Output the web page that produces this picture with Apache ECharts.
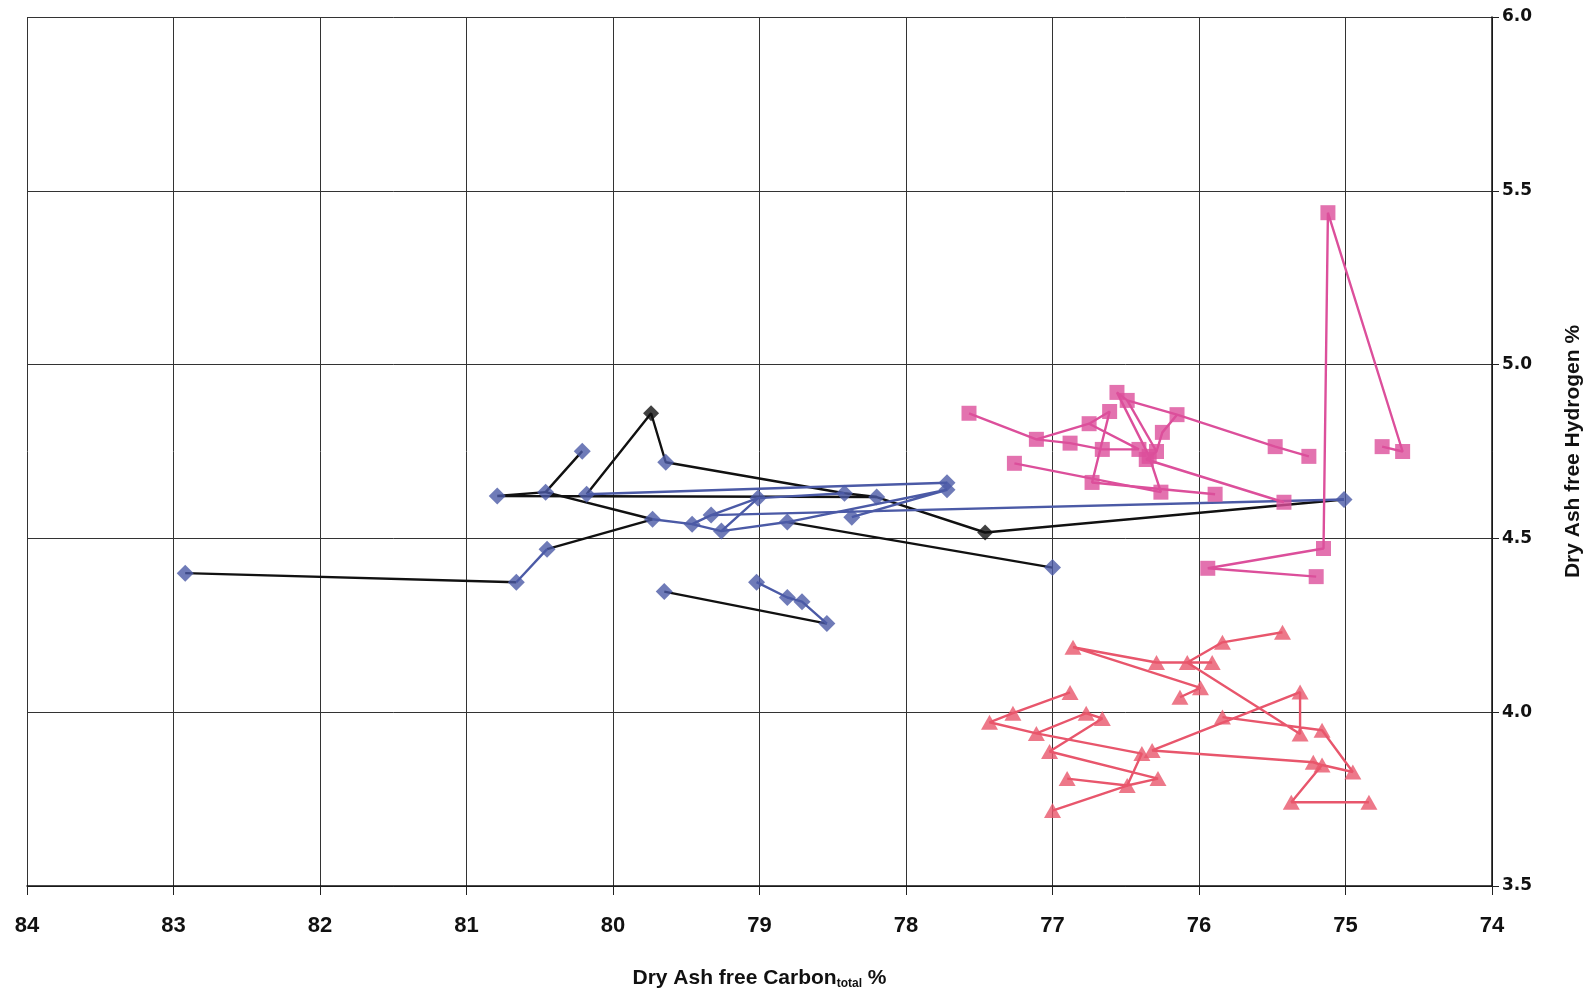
<!DOCTYPE html>
<html>
<head>
<meta charset="utf-8">
<script src="https://cdn.jsdelivr.net/npm/echarts@6/dist/echarts.min.js"></script>
<style>
html,body{margin:0;padding:0;background:#fff;}
#chart{width:1593px;height:995px;}
</style>
</head>
<body>
<div id="chart"></div>
<script>
// ---- Data (x = Dry Ash free Carbon total %, y = Dry Ash free Hydrogen %) ----
// Blue / black diamond series: line pieces drawn in black
const blackSegments = [
  [[82.92,4.40],[80.66,4.374]],
  [[80.45,4.469],[79.73,4.555]],
  [[80.21,4.751],[80.46,4.633],[79.73,4.555]],
  [[80.46,4.633],[80.79,4.622],[78.20,4.619]],
  [[80.18,4.627],[79.74,4.86],[79.64,4.719],[78.42,4.63],[78.20,4.619],[77.46,4.517],[75.01,4.612]],
  [[79.65,4.347],[78.54,4.255]],
  [[78.81,4.547],[77.00,4.416]]
];
// line pieces drawn in blue
const blueSegments = [
  [[80.66,4.374],[80.45,4.469]],
  [[80.18,4.627],[77.72,4.66]],
  [[79.73,4.555],[79.46,4.541],[79.33,4.567],[75.01,4.612]],
  [[79.46,4.541],[79.26,4.521],[79.01,4.616],[78.42,4.63]],
  [[79.33,4.567],[79.01,4.616]],
  [[79.26,4.521],[78.81,4.547],[77.72,4.64],[78.37,4.561]],
  [[79.02,4.374],[78.81,4.33],[78.71,4.318],[78.54,4.255]]
];
const blackMarkers = [[79.74,4.86],[77.46,4.517]];

// Pink square series
const pinkSegments = [
  [[77.57,4.86],[77.11,4.785],[76.88,4.774],[76.66,4.756],[76.41,4.756],[76.75,4.83],[76.61,4.865],[76.73,4.661],[75.89,4.627]],
  [[77.11,4.785],[76.75,4.83]],
  [[75.25,4.736],[75.48,4.764],[76.15,4.856],[76.49,4.897],[76.56,4.92],[76.34,4.736],[76.26,4.633],[77.26,4.716]],
  [[76.49,4.897],[76.29,4.75]],
  [[76.15,4.856],[76.25,4.805],[76.29,4.75],[76.36,4.727],[75.42,4.604]],
  [[74.75,4.764],[74.61,4.75],[75.12,5.437],[75.15,4.471],[75.94,4.414],[75.20,4.39]]
];

// Red triangle series
const redSegments = [
  [[76.88,4.057],[77.27,3.997],[77.43,3.971],[77.11,3.939],[76.39,3.881],[76.49,3.789],[77.00,3.717]],
  [[76.90,3.809],[76.49,3.789],[76.28,3.809],[77.02,3.887],[76.66,3.982],[76.77,3.997],[77.11,3.939]],
  [[76.13,4.043],[75.99,4.07],[76.86,4.187],[76.29,4.143],[76.08,4.143],[75.31,3.937],[75.31,4.058],[76.32,3.89],[75.22,3.856],[75.16,3.848],[74.95,3.828],[75.16,3.948],[75.84,3.986]],
  [[75.43,4.23],[75.84,4.201],[76.08,4.143],[75.91,4.143]],
  [[74.84,3.741],[75.37,3.741],[75.16,3.848]]
];

const xTickLabels = ['84','83','82','81','80','79','78','77','76','75','74'];
const yTickLabels = ['3.5','4.0','4.5','5.0','5.5','6.0'];

// ---- helpers ----
function uniquePoints(segs, exclude) {
  const seen = new Set((exclude || []).map(p => p.join(',')));
  const out = [];
  segs.forEach(s => s.forEach(p => {
    const k = p.join(',');
    if (!seen.has(k)) { seen.add(k); out.push(p); }
  }));
  return out;
}

const BLUE = '#4b5aa6', BLACK = '#111111', PINK = '#dc4f9b', RED = '#e8566c';
const series = [];
function addLines(segs, color) {
  segs.forEach(s => series.push({
    type: 'line', data: s, showSymbol: false, symbol: 'none', silent: true,
    lineStyle: { color: color, width: 2.4 }, animation: false, z: 2
  }));
}
addLines(blackSegments, BLACK);
addLines(blueSegments, BLUE);
addLines(pinkSegments, PINK);
addLines(redSegments, RED);

const blueMarkers = uniquePoints(blackSegments.concat(blueSegments), blackMarkers);
series.push({ type: 'scatter', data: blueMarkers, symbol: 'diamond', symbolSize: 17,
  itemStyle: { color: BLUE }, animation: false, z: 3 });
series.push({ type: 'scatter', data: blackMarkers, symbol: 'diamond', symbolSize: 16,
  itemStyle: { color: BLACK }, animation: false, z: 3 });
series.push({ type: 'scatter', data: uniquePoints(pinkSegments), symbol: 'rect', symbolSize: 15,
  itemStyle: { color: PINK }, animation: false, z: 3 });
series.push({ type: 'scatter', data: uniquePoints(redSegments), symbol: 'triangle', symbolSize: [17, 15],
  itemStyle: { color: RED }, animation: false, z: 3 });

const chart = echarts.init(document.getElementById('chart'), null, { renderer: 'canvas' });
const labelFont = "'Liberation Sans Narrow', 'Liberation Sans', Arial, sans-serif";
chart.setOption({
  backgroundColor: '#ffffff',
  animation: false,
  grid: { left: 27, right: 101, top: 17, bottom: 108, containLabel: false },
  xAxis: {
    type: 'value', inverse: true, min: 74, max: 84, interval: 1,
    position: 'bottom',
    name: '{a|Dry Ash free Carbon}{b|total}{a| %}',
    nameLocation: 'middle', nameGap: 80,
    nameTextStyle: {
      rich: {
        a: { fontFamily: labelFont, fontWeight: 'bold', fontSize: 21, color: '#111' },
        b: { fontFamily: labelFont, fontWeight: 'bold', fontSize: 12, color: '#111', verticalAlign: 'bottom', padding: [12, 0, 0, 0] }
      }
    },
    axisLine: { show: true, onZero: false, lineStyle: { color: '#111', width: 1.5 } },
    axisTick: { show: true, inside: false, length: 9, lineStyle: { color: '#222' } },
    axisLabel: {
      margin: 29, fontFamily: labelFont, fontWeight: 'bold', fontSize: 22, color: '#111',
      formatter: v => xTickLabels[84 - Math.round(v)]
    },
    splitLine: { show: true, lineStyle: { color: '#333', width: 1 } }
  },
  yAxis: {
    type: 'value', position: 'right', min: 3.5, max: 6.0, interval: 0.5,
    name: 'Dry Ash free Hydrogen %',
    nameLocation: 'middle', nameGap: 71,
    nameTextStyle: { fontFamily: labelFont, fontWeight: 'bold', fontSize: 21, color: '#111' },
    axisLine: { show: true, onZero: false, lineStyle: { color: '#111', width: 1.5 } },
    axisTick: { show: true, inside: false, length: 7, lineStyle: { color: '#222' } },
    axisLabel: {
      margin: 10, fontFamily: "'DejaVu Sans', 'Liberation Sans', sans-serif", fontWeight: 'bold', fontSize: 17, color: '#111',
      formatter: v => yTickLabels[Math.round((v - 3.5) / 0.5)]
    },
    splitLine: { show: true, lineStyle: { color: '#333', width: 1 } }
  },
  series: series
});
</script>
</body>
</html>
